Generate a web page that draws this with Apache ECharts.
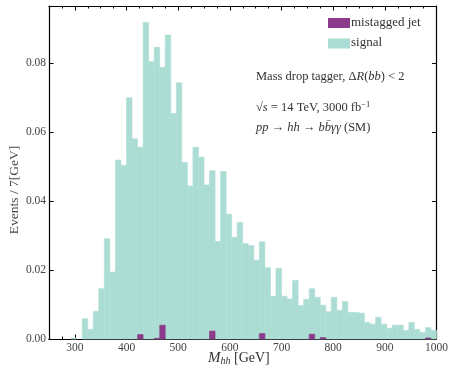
<!DOCTYPE html>
<html>
<head>
<meta charset="utf-8">
<script src="https://cdn.jsdelivr.net/npm/echarts@6/dist/echarts.min.js"></script>
<style>html,body{margin:0;padding:0;background:#fff;}#c{width:451px;height:369px;}</style>
</head>
<body>
<div id="c"></div>
<script>
// Histogram binning
var binStart = 250, binEnd = 1000, nBins = 70;
// Signal histogram values (Events / bin)
var signalValues = [0,0,0,0,0.0003,0,0.0059,0.0028,0.0080,0.0146,
  0.0291,0.0194,0.0519,0.0504,0.0700,0.0581,0.0556,0.0918,0.0804,0.0846,
  0.0788,0.0882,0.0654,0.0743,0.0512,0.0444,0.0556,0.0528,0.0447,0.0488,
  0.0283,0.0486,0.0362,0.0295,0.0338,0.0277,0.0271,0.0229,0.0282,0.0207,
  0.0124,0.0205,0.0124,0.0116,0.0170,0.0097,0.0115,0.0146,0.0121,0.0098,
  0.0079,0.0121,0.0083,0.0109,0.0077,0.0077,0.0075,0.0048,0.0043,0.0063,
  0.0043,0.0031,0.0040,0.0040,0.0025,0.0048,0.0028,0.0019,0.0033,0.0025];
// Mistagged jet histogram values
var mistagValues = [0,0,0,0,0,0,0,0,0,0,
  0,0,0,0,0,0,0.0013,0,0,0.0002,
  0.0040,0,0,0,0,0,0,0,0,0.0023,
  0,0,0,0,0,0,0,0,0.0016,0,
  0,0,0,0,0,0,0,0.0014,0,0.0004,
  0,0,0,0,0,0,0,0,0,0,
  0,0,0,0,0,0,0,0,0.0003,0];
var xMajorTicks = [300,400,500,600,700,800,900,1000];
var yTicks = [0,0.02,0.04,0.06,0.08];
var seriesNames = ['mistagged jet','signal'];

var FONT = "'Liberation Serif','DejaVu Serif',serif";
var COL_SIG = '#acddd4', COL_MIS = '#8c3b8a';

function binData(vals){
  var w = (binEnd - binStart)/nBins, out = [];
  for (var i=0;i<vals.length;i++){
    if (vals[i] > 0) out.push([binStart + i*w, binStart + (i+1)*w, vals[i]]);
  }
  return out;
}
function renderBin(params, api){
  var p0 = api.coord([api.value(0), api.value(2)]);
  var p1 = api.coord([api.value(1), 0]);
  var c = api.visual('color');
  return {type:'rect', shape:{x:p0[0], y:p0[1], width:p1[0]-p0[0], height:p1[1]-p0[1]},
    style:{fill:c, stroke:c, lineWidth:0.6}};
}

var chart = echarts.init(document.getElementById('c'), null, {renderer:'canvas'});
var minorX = []; for (var v=275; v<1000; v+=25){ if (v%100!==0) minorX.push(v); }

function xAx(pos, ticks, len, labels){
  return {type:'value', position:pos, min:binStart, max:binEnd,
    axisLine:{show:true, onZero:false, lineStyle:{color:'#000', width:1.2}},
    axisTick:{show:true, inside:true, length:len, customValues:ticks, lineStyle:{color:'#000', width:1}},
    axisLabel:{show:labels, customValues:ticks, margin:3, color:'#444', fontFamily:FONT, fontSize:11.5,
      formatter:function(v){return String(v);}},
    splitLine:{show:false}};
}
function yAx(pos, labels){
  return {type:'value', position:pos, min:0, max:0.0966,
    axisLine:{show:true, onZero:false, lineStyle:{color:'#000', width:1.2}},
    axisTick:{show:true, inside:true, length:4.5, customValues:yTicks, lineStyle:{color:'#000', width:1}},
    axisLabel:{show:labels, customValues:yTicks, margin:3, color:'#444', fontFamily:FONT, fontSize:11.5,
      formatter:function(v){return v.toFixed(2);}},
    splitLine:{show:false}};
}

chart.setOption({
  animation:false,
  grid:{left:49, right:14, top:6, bottom:30},
  xAxis:[xAx('bottom', xMajorTicks, 4.5, true), xAx('bottom', minorX, 2.5, false),
         xAx('top', xMajorTicks, 4.5, false), xAx('top', minorX, 2.5, false)],
  yAxis:[yAx('left', true), yAx('right', false)],
  series:[
    {name:seriesNames[1], type:'custom', renderItem:renderBin, data:binData(signalValues),
      itemStyle:{color:COL_SIG}, encode:{x:[0,1], y:2}, xAxisIndex:0, yAxisIndex:0, z:2},
    {name:seriesNames[0], type:'custom', renderItem:renderBin, data:binData(mistagValues),
      itemStyle:{color:COL_MIS}, encode:{x:[0,1], y:2}, xAxisIndex:0, yAxisIndex:0, z:3}
  ],
  graphic:[
    {type:'rect', left:328, top:18, shape:{width:22, height:10}, style:{fill:COL_MIS}},
    {type:'text', left:351, top:16, style:{text:seriesNames[0], font:'13px '+FONT, fill:'#333'}},
    {type:'rect', left:328, top:38.5, shape:{width:22, height:10}, style:{fill:COL_SIG}},
    {type:'text', left:351, top:36.5, style:{text:seriesNames[1], font:'13px '+FONT, fill:'#333'}},
    {type:'text', left:256, top:70, style:{
      text:'Mass drop tagger, Δ{i|R}({i|bb}) < 2', font:'12.5px '+FONT, fill:'#333',
      rich:{i:{fontStyle:'italic', fontFamily:FONT, fontSize:12.5, fill:'#333'}}}},
    {type:'text', left:256, top:100, style:{
      text:'√{o|s} = 14 TeV, 3000 fb{sup|−1}', font:'12.5px '+FONT, fill:'#333',
      rich:{o:{fontStyle:'italic', fontFamily:FONT, fontSize:12.5, fill:'#333'},
            sup:{fontFamily:FONT, fontSize:8.5, fill:'#333', padding:[0,0,7,0]}}}},
    {type:'text', left:256, top:121, style:{
      text:'{i|pp} → {i|hh} → {i|bb̄γγ} (SM)', font:'12.5px '+FONT, fill:'#333',
      rich:{i:{fontStyle:'italic', fontFamily:FONT, fontSize:12.5, fill:'#333'}}}},
    {type:'text', left:208, top:351, style:{
      text:'{i|M}{sub|hh} [GeV]', font:'14px '+FONT, fill:'#333',
      rich:{i:{fontStyle:'italic', fontFamily:FONT, fontSize:15, fill:'#333'},
            sub:{fontStyle:'italic', fontFamily:FONT, fontSize:10, fill:'#333', padding:[6,0,0,0]}}}},
    {type:'text', x:14, y:190, rotation:Math.PI/2, style:{
      text:'Events / 7[GeV]', font:'13.5px '+FONT, fill:'#444', align:'center', verticalAlign:'middle'}}
  ]
});
</script>
</body>
</html>
